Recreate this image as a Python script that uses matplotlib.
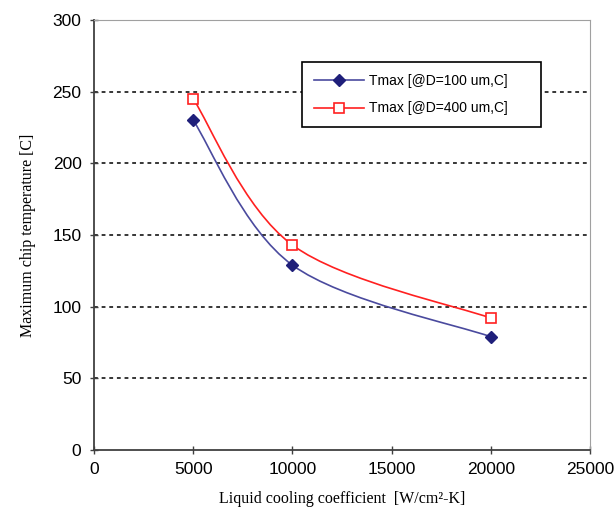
import matplotlib.pyplot as plt
from matplotlib.path import Path
from matplotlib.patches import PathPatch
from matplotlib.lines import Line2D

h_coef = [5000, 10000, 20000]
tmax_100 = [230, 129, 79]
tmax_400 = [245, 143, 92]
labels = ['Tmax [@D=100 um,C]', 'Tmax [@D=400 um,C]']


def smooth_path(xs, ys):
    # Excel-style smoothed line (Catmull-Rom -> cubic Bezier)
    pts = list(zip(xs, ys))
    verts = [pts[0]]
    codes = [Path.MOVETO]
    n = len(pts)
    for i in range(n - 1):
        p0 = pts[max(i - 1, 0)]
        p1 = pts[i]
        p2 = pts[i + 1]
        p3 = pts[min(i + 2, n - 1)]
        c1 = (p1[0] + (p2[0] - p0[0]) / 6, p1[1] + (p2[1] - p0[1]) / 6)
        c2 = (p2[0] - (p3[0] - p1[0]) / 6, p2[1] - (p3[1] - p1[1]) / 6)
        verts += [c1, c2, p2]
        codes += [Path.CURVE4] * 3
    return Path(verts, codes)


fig = plt.figure(figsize=(6.16, 5.23), dpi=100)
ax = fig.add_axes([94 / 616, 73 / 523, 496 / 616, 430 / 523])

blue = '#1f1f7a'
red = '#ff2020'

ax.add_patch(PathPatch(smooth_path(h_coef, tmax_100), fill=False, edgecolor='#4a4a9e', lw=1.2))
ax.add_patch(PathPatch(smooth_path(h_coef, tmax_400), fill=False, edgecolor=red, lw=1.2))
ax.plot(h_coef, tmax_100, linestyle='none', marker='D', ms=6.5, color=blue)
ax.plot(h_coef, tmax_400, linestyle='none', marker='s', ms=7.5, mfc='white', mec=red, mew=1.2)

ax.set_xlim(0, 25000)
ax.set_ylim(0, 300)
ax.set_xticks(range(0, 25001, 5000))
ax.set_yticks(range(0, 301, 50))
for y in range(50, 300, 50):
    ax.axhline(y, color='black', lw=1.1, ls=(0, (2.5, 2.5)), zorder=0)

for s in ['top', 'right']:
    ax.spines[s].set_color('#a0a0a0')
for s in ['left', 'bottom']:
    ax.spines[s].set_color('#404040')
    ax.spines[s].set_linewidth(1.3)
ax.tick_params(direction='inout', length=6, width=1, colors='#404040',
               labelcolor='black', labelsize=12.5, pad=6)
for t in ax.get_xticklabels() + ax.get_yticklabels():
    t.set_fontfamily('Liberation Sans')

ax.set_xlabel('Liquid cooling coefficient  [W/cm²-K]', fontfamily='Liberation Serif', fontsize=11.5, labelpad=10)
ax.set_ylabel('Maximum chip temperature [C]', fontfamily='Liberation Serif', fontsize=11.5, labelpad=12)

handles = [
    Line2D([], [], color='#4a4a9e', lw=1.2, marker='D', ms=6.5, mfc=blue, mec=blue),
    Line2D([], [], color=red, lw=1.2, marker='s', ms=7.5, mfc='white', mec=red, mew=1.2),
]
leg = ax.legend(handles, labels, loc='upper left', bbox_to_anchor=(0.419, 0.753, 0.482, 0.15),
                mode='expand', frameon=True, fancybox=False, edgecolor='black', framealpha=1,
                prop={'family': 'Liberation Sans', 'size': 10}, labelspacing=1.0,
                handlelength=3.6, handletextpad=0.4, borderpad=0.85, borderaxespad=0)
leg.get_frame().set_linewidth(1.2)

fig.savefig('out.png', dpi=100)
